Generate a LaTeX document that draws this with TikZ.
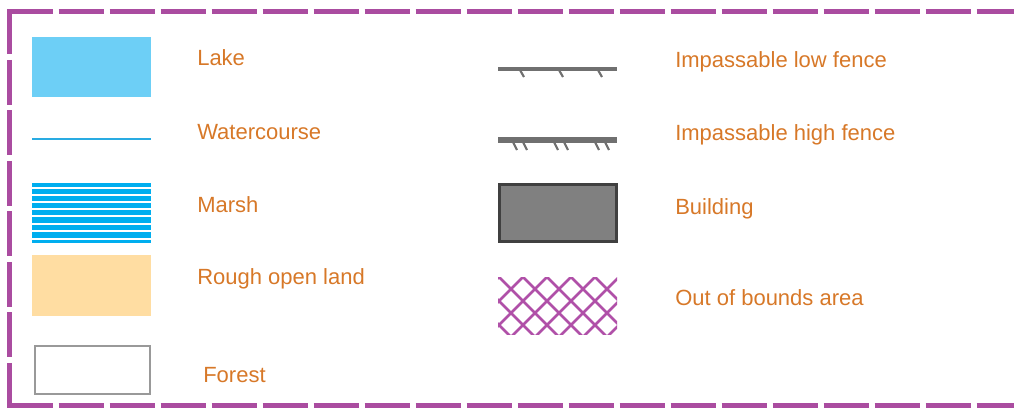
\documentclass[tikz,border=0pt]{standalone}
\usepackage{fontspec}
\setmainfont{Liberation Sans}
\definecolor{bordcol}{RGB}{170,76,160}
\definecolor{lakecol}{RGB}{109,207,246}
\definecolor{watercol}{RGB}{41,171,226}
\definecolor{marshcol}{RGB}{0,174,239}
\definecolor{roughcol}{RGB}{255,221,162}
\definecolor{txtcol}{RGB}{215,120,40}
\definecolor{fencecol}{RGB}{112,112,112}
\definecolor{oobcol}{RGB}{176,80,168}
\tikzset{
  lbl/.style={anchor=base west, inner sep=0pt, text=txtcol, font=\fontsize{16.5pt}{19pt}\selectfont},
  bdr/.style={draw=bordcol, line width=3.75pt, line cap=butt},
}
\begin{document}
\begin{tikzpicture}[x=0.75pt,y=-0.75pt]
\useasboundingbox (0,0) rectangle (1014,410);
% border
\draw[bdr, dash pattern=on 34pt off 4.25pt] (7.5,11.5) -- (1030,11.5);
\draw[bdr, dash pattern=on 34pt off 4.25pt] (7.5,405) -- (1030,405);
\draw[bdr, dash pattern=on 33.75pt off 4.1pt] (9.5,9.5) -- (9.5,407.5);
% Lake
\fill[lakecol] (32,37) rectangle (151,97);
\node[lbl] (lake) at (197,66) {Lake};
% Watercourse
\draw[watercol, line width=1.1pt] (32,139) -- (151,139);
\node[lbl] (water) at (197,139) {Watercourse};
% Marsh
\fill[marshcol] (32,183) rectangle (151,243);
\foreach \yy in {187.8,195,202,209.2,216.4,223.6,230.8,238.6}
  \draw[white, line width=1.4pt] (32,\yy) -- (151,\yy);
\node[lbl] (marsh) at (197,212) {Marsh};
% Rough open land
\fill[roughcol] (32,255) rectangle (151,316);
\node[lbl] (rough) at (197,284) {Rough open land};
% Forest
\draw[gray!80, line width=1.2pt] (35,346) rectangle (150,394);
\node[lbl] (forest) at (203,382) {Forest};
% Low fence
\draw[fencecol, line width=2.4pt] (498,69) -- (617,69);
\foreach \xx in {520,559,598}
  \draw[fencecol, line width=1.6pt] (\xx,70) -- (\xx+4,77);
\node[lbl] (lowf) at (675,68) {Impassable low fence};
% High fence
\draw[fencecol, line width=5pt] (498,140) -- (617,140);
\foreach \xx in {513,523,554,564,595,605}
  \draw[fencecol, line width=1.6pt] (\xx,142) -- (\xx+4,150);
\node[lbl] (highf) at (675,140) {Impassable high fence};
% Building
\draw[draw={rgb,255:red,64;green,64;blue,64}, fill={rgb,255:red,128;green,128;blue,128}, line width=1.6pt] (499.5,184.5) rectangle (616.5,241.5);
\node[lbl] (build) at (675,214) {Building};
% Out of bounds
\begin{scope}
\clip (498,277) rectangle (617,334);
\foreach \k in {-7,...,7} {
  \draw[oobcol, line width=2pt] (523+24*\k-80,277-80) -- (523+24*\k+120,277+120);
  \draw[oobcol, line width=2pt] (523+24*\k+80,277-80) -- (523+24*\k-120,277+120);
}
\end{scope}
\node[lbl] (oob) at (675,305) {Out of bounds area};
\end{tikzpicture}
\end{document}
